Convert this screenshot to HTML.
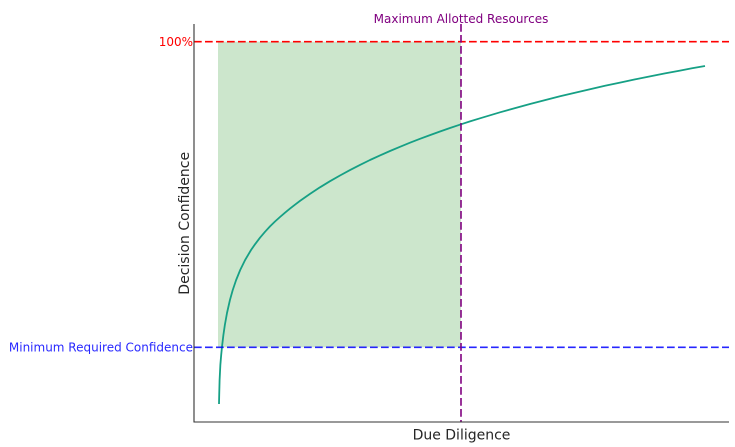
<!DOCTYPE html>
<html>
<head>
<meta charset="utf-8">
<style>
  html, body { margin: 0; padding: 0; background: #ffffff; }
  svg { display: block; }
  text { font-family: "DejaVu Sans", "Liberation Sans", sans-serif; }
</style>
</head>
<body>
<svg width="735" height="447" viewBox="0 0 735 447" xmlns="http://www.w3.org/2000/svg">
  <rect x="0" y="0" width="735" height="447" fill="#ffffff"/>

  <!-- shaded region -->
  <rect x="218" y="41.7" width="243" height="305.6" fill="#cce6cc"/>

  <!-- curve -->
  <polyline fill="none" stroke="#16a085" stroke-width="1.8" stroke-linejoin="round" stroke-linecap="butt"
    points="219,404 219.2,395 219.6,380 220.35,365 221.18,355 221.97,347 223.39,335 224.85,325 227,313 229.94,300 232.75,290 236.13,280 240.2,270 245.11,260 251.03,250 255,244.3 260,237.7 265,231.8 270,226.4 275,221.5 280,217 285,212.7 290,208.6 295,204.66 300,200.9 310,193.9 320,187.3 330,181.2 340,175.5 350,170.1 360,164.9 370,160 380,155.4 390,151 400,146.8 410,142.7 420,138.8 430,135.1 440,131.5 450,128 461,124.3 470,121.4 480,118.3 490,115.3 500,112.3 515,108.1 530,104 545,100.1 560,96.3 575,92.7 590,89.2 605,85.8 620,82.6 635,79.4 650,76.4 665,73.4 680,70.6 692,68.3 705,66"/>

  <!-- red dashed 100% line -->
  <line x1="194" y1="41.7" x2="729" y2="41.7" stroke="#ff0000" stroke-width="1.6" stroke-dasharray="7.7 3.3"/>
  <!-- blue dashed minimum line -->
  <line x1="194" y1="347.3" x2="729" y2="347.3" stroke="#0000ff" stroke-width="1.6" stroke-dasharray="7.7 3.3" stroke-opacity="0.85"/>
  <!-- purple vertical line -->
  <line x1="461" y1="24" x2="461" y2="422" stroke="#800080" stroke-width="1.6" stroke-dasharray="7.7 3.3"/>

  <!-- spines -->
  <line x1="194" y1="24" x2="194" y2="422.5" stroke="#333333" stroke-width="1.1"/>
  <line x1="193.5" y1="422" x2="729" y2="422" stroke="#333333" stroke-width="1.1"/>

  <!-- labels -->
  <text x="461" y="23" font-size="12" fill="#800080" text-anchor="middle">Maximum Allotted Resources</text>
  <text x="193" y="46" font-size="12" fill="#ff0000" text-anchor="end">100%</text>
  <text x="193" y="351.6" font-size="12" fill="#0000ff" fill-opacity="0.85" text-anchor="end">Minimum Required Confidence</text>
  <text x="461.5" y="439.3" font-size="14" fill="#262626" text-anchor="middle">Due Diligence</text>
  <text x="0" y="0" font-size="14" fill="#262626" text-anchor="middle" transform="translate(188.8,223.3) rotate(-90)">Decision Confidence</text>
</svg>
</body>
</html>
